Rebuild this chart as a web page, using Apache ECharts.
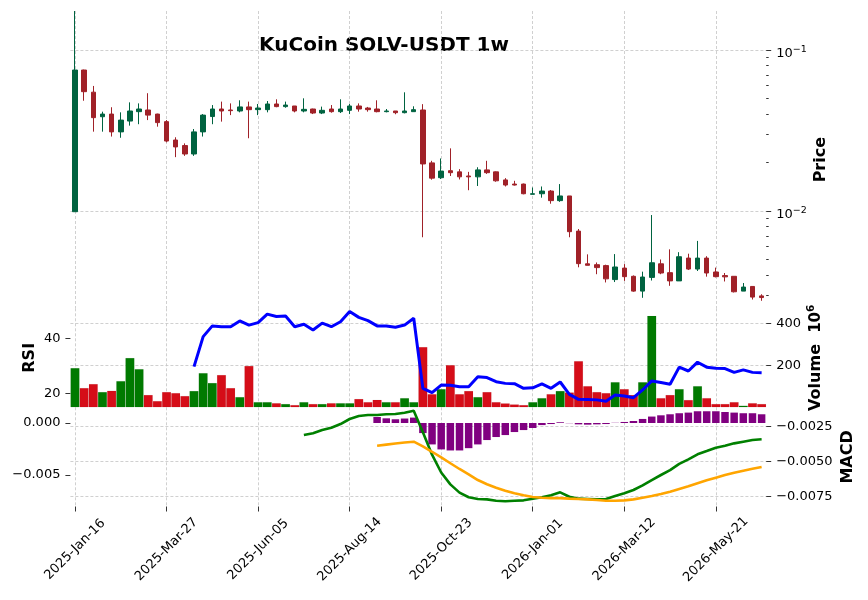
<!DOCTYPE html>
<html>
<head>
<meta charset="utf-8">
<title>KuCoin SOLV-USDT 1w</title>
<script src="https://cdn.jsdelivr.net/npm/echarts@6/dist/echarts.min.js"></script>
<style>
  html, body { margin: 0; padding: 0; background: #fff; }
  #chart { width: 868px; height: 600px; }
</style>
</head>
<body>
<div id="chart"></div>
<script>
var chartTitle = 'KuCoin SOLV-USDT 1w';
var firstWeek = '2025-01-16';   // weekly candles from here
var weekCount = 76;
var months = ['Jan', 'Feb', 'Mar', 'Apr', 'May', 'Jun', 'Jul', 'Aug', 'Sep', 'Oct', 'Nov', 'Dec'];

// OHLC (USDT)
var opens = [0.0099, 0.0751, 0.0547, 0.0385, 0.0400, 0.0310, 0.0362, 0.0414, 0.0424, 0.0400,
  0.0359, 0.0276, 0.0255, 0.0226, 0.0310, 0.0386, 0.0430, 0.0424, 0.0418, 0.0443,
  0.0426, 0.0426, 0.0462, 0.0445, 0.0449, 0.0418, 0.0430, 0.0406, 0.0430, 0.0414,
  0.0422, 0.0449, 0.0436, 0.0430, 0.0414, 0.0418, 0.0408, 0.0414, 0.0424, 0.0199,
  0.0161, 0.0178, 0.0175, 0.0165, 0.0163, 0.0180, 0.0175, 0.0156, 0.0147, 0.0147,
  0.0127, 0.0128, 0.0133, 0.0116, 0.0124, 0.0075, 0.0047, 0.00464, 0.00458, 0.00375,
  0.00442, 0.00393, 0.00318, 0.00387, 0.0047, 0.00414, 0.00368, 0.0051, 0.00436, 0.0051,
  0.00418, 0.00397, 0.00393, 0.00318, 0.0034, 0.00297];
var highs = [0.1746, 0.0755, 0.0598, 0.0414, 0.0441, 0.0410, 0.0473, 0.0466, 0.0539, 0.0402,
  0.0367, 0.0287, 0.0263, 0.0323, 0.0400, 0.0455, 0.0478, 0.0466, 0.0487, 0.0478,
  0.0462, 0.0482, 0.0494, 0.0478, 0.0449, 0.0501, 0.0432, 0.0445, 0.0455, 0.0494,
  0.0462, 0.0466, 0.0443, 0.0487, 0.0430, 0.0418, 0.0546, 0.0447, 0.0461, 0.0205,
  0.0212, 0.0245, 0.0182, 0.0175, 0.0187, 0.0205, 0.0176, 0.0160, 0.0154, 0.0148,
  0.0140, 0.0142, 0.0135, 0.0147, 0.0124, 0.00773, 0.00538, 0.00479, 0.00464, 0.0054,
  0.00468, 0.00398, 0.0042, 0.00944, 0.0050, 0.00578, 0.00555, 0.00543, 0.00652, 0.00524,
  0.00445, 0.00412, 0.00393, 0.00357, 0.0034, 0.00304];
var lows = [0.0099, 0.0484, 0.0311, 0.0311, 0.0290, 0.0285, 0.0339, 0.0346, 0.0367, 0.0334,
  0.0267, 0.0216, 0.0220, 0.0220, 0.0290, 0.0346, 0.0359, 0.0394, 0.0410, 0.0283,
  0.0394, 0.0410, 0.0441, 0.0438, 0.0410, 0.0410, 0.0400, 0.0400, 0.0408, 0.0406,
  0.0400, 0.0414, 0.0414, 0.0410, 0.0410, 0.0399, 0.0404, 0.0414, 0.00687, 0.01565,
  0.0158, 0.0165, 0.0157, 0.01346, 0.0143, 0.0170, 0.0152, 0.0142, 0.0144, 0.0127,
  0.0127, 0.0121, 0.0111, 0.0114, 0.00687, 0.00447, 0.0046, 0.00405, 0.0036, 0.00362,
  0.00368, 0.00315, 0.00289, 0.0037, 0.00405, 0.00343, 0.00368, 0.0043, 0.00424, 0.00391,
  0.00387, 0.00365, 0.00312, 0.00318, 0.00282, 0.00277];
var closes = [0.0751, 0.0551, 0.0380, 0.0400, 0.0310, 0.0367, 0.0418, 0.0430, 0.0394, 0.0354,
  0.0272, 0.0250, 0.0226, 0.0310, 0.0394, 0.0430, 0.0418, 0.0420, 0.0443, 0.0426,
  0.0436, 0.0462, 0.0445, 0.0455, 0.0418, 0.0428, 0.0406, 0.0422, 0.0414, 0.0430,
  0.0449, 0.0430, 0.0426, 0.0414, 0.0418, 0.0408, 0.0418, 0.0426, 0.0196, 0.0160,
  0.0177, 0.0173, 0.0163, 0.0163, 0.0180, 0.0173, 0.0154, 0.0145, 0.0145, 0.0128,
  0.0128, 0.0133, 0.0116, 0.0124, 0.00744, 0.00471, 0.0046, 0.00445, 0.00379, 0.00449,
  0.00391, 0.00318, 0.00389, 0.00477, 0.00412, 0.00368, 0.0052, 0.00436, 0.0051, 0.00412,
  0.00391, 0.0039, 0.00315, 0.00337, 0.00292, 0.0029];

// volume, millions
var volumes = [187, 92, 111, 73, 79, 125, 235, 182, 59, 30,
  73, 68, 54, 78, 163, 116, 154, 92, 49, 197,
  25, 25, 20, 16, 11, 25, 16, 16, 20, 20,
  20, 40, 25, 36, 25, 25, 44, 25, 287, 63,
  87, 201, 63, 78, 49, 73, 25, 19, 14, 11,
  25, 44, 63, 78, 71, 220, 101, 73, 68, 120,
  87, 59, 120, 435, 44, 59, 87, 35, 101, 44,
  16, 16, 25, 8, 20, 16];

// RSI starts at week 13
var rsiStart = 13;
var rsiValues = [29.7, 40.6, 44.5, 44.2, 44.2, 46.3, 44.8, 45.7, 48.8, 47.9,
  48.1, 44.2, 45.1, 43.0, 45.5, 44.2, 46.0, 49.7, 47.6, 46.4,
  44.5, 44.5, 44.0, 44.8, 47.3, 21.8, 20.2, 23.0, 22.9, 22.4,
  22.4, 26.0, 25.7, 24.2, 23.6, 23.5, 21.8, 22.0, 23.4, 21.8,
  24.1, 19.6, 17.8, 17.7, 17.6, 17.1, 19.4, 19.0, 18.4, 21.2,
  24.5, 23.9, 23.3, 29.5, 28.1, 31.3, 29.5, 29.1, 29.0, 27.6,
  28.5, 27.6, 27.5];

// MACD line starts at week 25, signal + histogram at week 33
var macdStart = 25;
var macdValues = [-0.00309, -0.00297, -0.00274, -0.00257, -0.00231, -0.00195, -0.00174, -0.00166,
  -0.00166, -0.00161, -0.00159, -0.00150, -0.00136, -0.00290, -0.00450, -0.00577, -0.00662,
  -0.00721, -0.00754, -0.00766, -0.00769, -0.00779, -0.00783, -0.00779, -0.00776, -0.00764,
  -0.00754, -0.00740, -0.00719, -0.00750, -0.00764, -0.00766, -0.00769, -0.00766, -0.00745,
  -0.00726, -0.00702, -0.00669, -0.00631, -0.00595, -0.00560, -0.00516, -0.00483, -0.00447,
  -0.00424, -0.00400, -0.00386, -0.00369, -0.00357, -0.00345, -0.00340];
var signalStart = 33;
var signalValues = [-0.00386, -0.00378, -0.00370, -0.00363, -0.00357, -0.00390, -0.00429, -0.00469,
  -0.00511, -0.00552, -0.00590, -0.00631, -0.00661, -0.00686, -0.00707, -0.00726, -0.00740,
  -0.00752, -0.00757, -0.00760, -0.00760, -0.00764, -0.00766, -0.00769, -0.00774, -0.00779,
  -0.00779, -0.00776, -0.00769, -0.00757, -0.00745, -0.00731, -0.00714, -0.00695, -0.00676,
  -0.00654, -0.00633, -0.00614, -0.00595, -0.00579, -0.00564, -0.00550, -0.00538];
var histValues = [0.00058, 0.00045, 0.00036, 0.00043, 0.00052, -0.00097, -0.00206, -0.00254,
  -0.00264, -0.00264, -0.00242, -0.00206, -0.00164, -0.00135, -0.00116, -0.00087, -0.00068,
  -0.00048, -0.00020, -0.00010, 0.00007, -0.00002, -0.00013, -0.00016, -0.00013, -0.00010,
  0.00002, 0.00010, 0.00019, 0.00039, 0.00062, 0.00074, 0.00084, 0.00094, 0.00100,
  0.00113, 0.00113, 0.00113, 0.00106, 0.00100, 0.00094, 0.00094, 0.00084];

var priceTicks = [-2, -1];   // log10 of 10^-2, 10^-1
var minorPrices = [0.003, 0.004, 0.005, 0.006, 0.007, 0.008, 0.009,
  0.02, 0.03, 0.04, 0.05, 0.06, 0.07, 0.08, 0.09];
var volumeTicks = [200, 400];
var rsiTicks = [20, 40];
var macdTicks = [-0.0075, -0.005, -0.0025];
var histTicks = [-0.005, 0];

var FONT = 'DejaVu Sans';
var UP = '#006340', DOWN = '#a02128';
var VUP = '#007a00', VDOWN = '#d50d18';
var GRID_LINE = {type: [3, 2], color: '#c4c4c4', width: 0.8};

// weekly category labels
var categories = [];
var d0 = new Date(firstWeek + 'T00:00:00Z');
for (var i = 0; i < weekCount; i++) {
  var d = new Date(d0.getTime() + i * 7 * 86400000);
  var dd = d.getUTCDate();
  categories.push(d.getUTCFullYear() + '-' + months[d.getUTCMonth()] + '-' + (dd < 10 ? '0' + dd : dd));
}

function padFrom(start, values) {
  var out = [];
  for (var i = 0; i < weekCount; i++) {
    out.push(i >= start && i - start < values.length ? values[i - start] : null);
  }
  return out;
}
function minus(s) { return s.replace('-', '\u2212'); }

var candleData = opens.map(function (o, i) {
  return [Math.log10(o), Math.log10(closes[i]), Math.log10(lows[i]), Math.log10(highs[i])];
});
var volumeData = volumes.map(function (v, i) {
  return {value: v, itemStyle: {color: closes[i] >= opens[i] ? VUP : VDOWN}};
});

var everyTen = function (i) { return i % 10 === 0; };
var GL = 70.42, GR = 101.8;

function xAxisFor(gi, showLabels) {
  return {
    type: 'category', gridIndex: gi, data: categories, boundaryGap: true,
    axisLine: {show: false, onZero: false},
    axisTick: {show: showLabels, alignWithLabel: true, interval: everyTen, length: 5,
      lineStyle: {color: '#000', width: 0.8}},
    axisLabel: {show: showLabels, interval: everyTen, rotate: 45, align: 'center', verticalAlign: 'middle',
      margin: 43, fontSize: 13, color: '#000', fontFamily: FONT},
    splitLine: {show: true, interval: everyTen, alignWithLabel: true, lineStyle: GRID_LINE}
  };
}

function yAxisFor(o) {
  var ax = {
    type: 'value', gridIndex: o.grid, position: o.pos, min: o.min, max: o.max, scale: true,
    axisLine: {show: false, onZero: false},
    axisTick: {show: true, customValues: o.ticks, length: o.tickLen || 5,
      lineStyle: {color: '#000', width: 0.8}},
    axisLabel: {show: !!o.labels, customValues: o.ticks, margin: 10, fontSize: 13, color: '#000',
      fontFamily: FONT, formatter: o.labels, rich: o.rich, padding: o.labelPad || 0},
    splitLine: {show: !!o.split, lineStyle: GRID_LINE}
  };
  if (o.name) {
    ax.name = o.name;
    ax.nameLocation = 'middle';
    ax.nameRotate = 90;
    ax.nameGap = o.nameGap;
    ax.nameMoveOverlap = false;
    ax.nameTextStyle = {fontSize: 16, fontWeight: 'bold', color: '#000', fontFamily: FONT, rich: o.nameRich};
  }
  return ax;
}

var myChart = echarts.init(document.getElementById('chart'), null, {renderer: 'canvas'});
var option = {
  animation: false,
  backgroundColor: '#fff',
  graphic: [{
    type: 'text', x: 384, y: 46,
    style: {text: chartTitle, align: 'center', verticalAlign: 'middle', fill: '#000',
      font: 'bold 20px "DejaVu Sans"'}
  }],
  grid: [
    {left: GL, right: GR, top: 11, height: 297.3},
    {left: GL, right: GR, top: 308.3, height: 99},
    {left: GL, right: GR, top: 407.3, height: 99.2}
  ],
  xAxis: [xAxisFor(0, false), xAxisFor(1, false), xAxisFor(2, true)],
  yAxis: [
    // price, log10 space
    yAxisFor({grid: 0, pos: 'right', min: -2.6043, max: -0.7578, ticks: priceTicks, split: true,
      labels: function (v) { return '10{sup|\u2212' + Math.round(-v) + '}'; },
      rich: {sup: {fontSize: 9.5, fontFamily: FONT, color: '#000', padding: [0, 0, 8, 0]}},
      labelPad: [7, 0, 0, 0], name: 'Price', nameGap: 47}),
    yAxisFor({grid: 0, pos: 'right', min: -2.6043, max: -0.7578, tickLen: 2.5,
      ticks: minorPrices.map(function (p) { return Math.log10(p); })}),
    // volume
    yAxisFor({grid: 1, pos: 'right', min: 0, max: 471, ticks: volumeTicks, split: true,
      labels: function (v) { return String(v); },
      name: '{b|Volume}  {n|10}{s|6}', nameGap: 40,
      nameRich: {
        b: {fontSize: 16, fontWeight: 'bold', fontFamily: FONT, color: '#000'},
        n: {fontSize: 15, fontFamily: FONT, color: '#000'},
        s: {fontSize: 10.5, fontFamily: FONT, color: '#000', padding: [0, 0, 9, 0]}
      }}),
    // RSI
    yAxisFor({grid: 1, pos: 'left', min: 14.9, max: 50.9, ticks: rsiTicks,
      labels: function (v) { return String(v); }, name: 'RSI', nameGap: 33}),
    // MACD lines
    yAxisFor({grid: 2, pos: 'right', min: -0.0082, max: -0.001114, ticks: macdTicks, split: true,
      labels: function (v) { return minus(v.toFixed(4)); }, name: 'MACD', nameGap: 74}),
    // histogram
    yAxisFor({grid: 2, pos: 'left', min: -0.00803, max: 0.00151, ticks: histTicks,
      labels: function (v) { return minus(v.toFixed(3)); }})
  ],
  series: [
    {
      type: 'candlestick', xAxisIndex: 0, yAxisIndex: 0, data: candleData, barWidth: 5,
      itemStyle: {color: UP, color0: DOWN, borderColor: UP, borderColor0: DOWN, borderWidth: 1}
    },
    {
      type: 'bar', xAxisIndex: 1, yAxisIndex: 2, data: volumeData, barCategoryGap: '0%',
      itemStyle: {borderColor: 'rgba(0,0,0,0.08)', borderWidth: 0.5}, z: 1
    },
    {
      type: 'line', xAxisIndex: 1, yAxisIndex: 3, data: padFrom(rsiStart, rsiValues),
      showSymbol: false, symbol: 'none', lineStyle: {color: '#0000ff', width: 3}, z: 3
    },
    {
      type: 'bar', xAxisIndex: 2, yAxisIndex: 5, data: padFrom(signalStart, histValues),
      barWidth: 7.5, itemStyle: {color: '#800080'}, z: 1
    },
    {
      type: 'line', xAxisIndex: 2, yAxisIndex: 4, data: padFrom(macdStart, macdValues),
      showSymbol: false, symbol: 'none', lineStyle: {color: '#008000', width: 2.6}, z: 3
    },
    {
      type: 'line', xAxisIndex: 2, yAxisIndex: 4, data: padFrom(signalStart, signalValues),
      showSymbol: false, symbol: 'none', lineStyle: {color: '#ffa500', width: 2.6}, z: 3
    }
  ]
};
myChart.setOption(option);
</script>
</body>
</html>
